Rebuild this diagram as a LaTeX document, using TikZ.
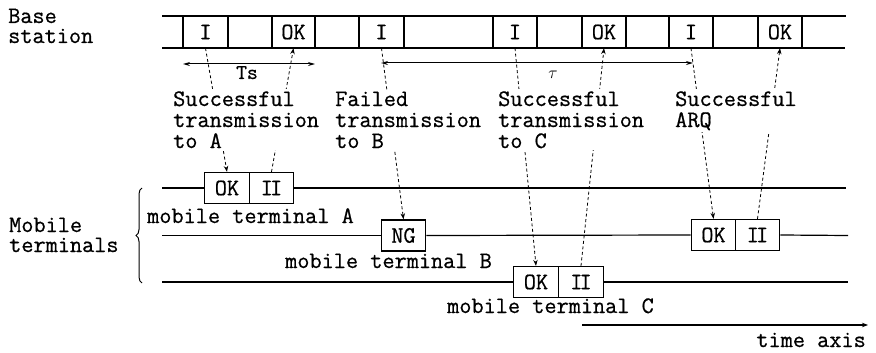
\documentclass[tikz,border=0pt]{standalone}
\usepackage{fontspec}
\newfontfamily\courfont{Latin Modern Mono}[FakeBold=0.7]
\usetikzlibrary{arrows.meta,decorations.pathreplacing,calc}
\begin{document}
\begin{tikzpicture}[x=1pt,y=-1pt,
  every node/.style={font=\courfont\fontsize{23.6}{21}\selectfont, inner sep=0pt},
  stripline/.style={line width=1.4pt},
  tline/.style={line width=1.2pt},
  cellbox/.style={draw, line width=1.4pt, minimum width=44.5pt, minimum height=31pt, fill=white},
  cellslot/.style={minimum width=44.5pt, minimum height=32pt},
  dashlink/.style={line width=0.8pt, dash pattern=on 3pt off 2.5pt},
  arrowend/.style={-{Stealth[length=6pt,width=4.5pt]}},
  txtlab/.style={align=left, fill=white, inner sep=2pt, anchor=base west},
  dimarrow/.style={line width=1pt, {Stealth[length=7pt,width=4pt]}-{Stealth[length=7pt,width=4pt]}}
]
\useasboundingbox (0,0) rectangle (876,353);

% base station strip
\draw[stripline] (162,16) -- (846,16);
\draw[stripline] (162,48) -- (845,48);
\foreach \x in {183,228,272,315,359,404,493,537,582,626,669,713,758,802}
  \draw[stripline] (\x,16) -- (\x,48);
\node[cellslot] (bI1) at (205.5,32) {I};
\node[cellslot] (bOK1) at (293.5,32) {OK};
\node[cellslot] (bI2) at (381.5,32) {I};
\node[cellslot] (bI3) at (515,32) {I};
\node[cellslot] (bOK2) at (604,32) {OK};
\node[cellslot] (bI4) at (691,32) {I};
\node[cellslot] (bOK3) at (780,32) {OK};

\node[anchor=base west] (bs) at (8,23) {Base};
\node[anchor=base west] (bs2) at (8,43) {station};

% terminal boxes
\node[cellbox] (aOK) at (227,188) {OK};
\node[cellbox] (aII) at (271.5,188) {I\kern-.12em I};
\node[cellbox] (bNG) at (403.5,235.5) {NG};
\node[cellbox] (bOK) at (713.5,235) {OK};
\node[cellbox] (bII) at (757.5,235) {I\kern-.12em I};
\node[cellbox] (cOK) at (536,282) {OK};
\node[cellbox] (cII) at (581,282) {I\kern-.12em I};

% terminal lines
\coordinate (aL) at (162,188); \coordinate (aR) at (846,188);
\coordinate (bL) at (162,235.5); \coordinate (bR) at (848,235.5);
\coordinate (cL) at (162,282); \coordinate (cR) at (848,282);
\draw[tline] (aL) -- (aOK.west);
\draw[tline] (aII.east) -- (aR);
\draw[tline] (bL) -- (bNG.west);
\draw[tline] (bNG.east) -- (bOK.west);
\draw[tline] (bII.east) -- (bR);
\draw[tline] (cL) -- (cOK.west);
\draw[tline] (cII.east) -- (cR);

% dashed links
\draw[dashlink, arrowend] (bI1.south) -- (aOK.north);
\draw[dashlink, arrowend] (aII.north) -- (bOK1.south);
\draw[dashlink, arrowend] (bI2.south) -- (bNG.north);
\draw[dashlink, arrowend] (bI3.south) -- (cOK.north);
\draw[dashlink, arrowend] (cII.north) -- (bOK2.south);
\draw[dashlink, arrowend] (bI4.south) -- (bOK.north);
\draw[dashlink, arrowend] (bII.north) -- (bOK3.south);

% labels (base anchor = last line)
\node[txtlab] (lA) at (171,148) {Successful\\transmission\\to A};
\node[txtlab] (lB) at (333,148) {Failed\\transmission\\to B};
\node[txtlab] (lC) at (496,148) {Successful\\transmission\\to C};
\node[txtlab] (lD) at (673,127) {Successful\\ARQ};

% dimension arrows
\coordinate (ts1) at (183,64); \coordinate (ts2) at (315,64);
\draw[dimarrow] (ts1) -- (ts2);
\node[anchor=base] (tslab) at (247,79) {\fontsize{21}{21}\selectfont Ts};
\coordinate (tau1) at (381,63); \coordinate (tau2) at (693,63);
\draw[dimarrow] (tau1) -- (tau2);
\node[anchor=base] (taulab) at (553,79) {\fontsize{17}{17}\selectfont$\tau$};

% mobile terminal labels
\node[anchor=base west] (mA) at (147,223) {mobile terminal A};
\node[anchor=base west] (mB) at (285,268) {mobile terminal B};
\node[anchor=base west] (mC) at (447,313) {mobile terminal C};
\node[anchor=base west] (mt1) at (9,232) {Mobile};
\node[anchor=base west] (mt2) at (9,252) {terminals};
\draw[line width=1pt, decorate, decoration={brace, amplitude=6pt}] (142,283) -- (142,188);

% time axis
\coordinate (t1) at (582,325); \coordinate (t2) at (868,325);
\draw[line width=1.2pt, arrowend] (t1) -- (t2);
\node[anchor=base east] (taxis) at (866,347) {time axis};
\end{tikzpicture}
\end{document}
